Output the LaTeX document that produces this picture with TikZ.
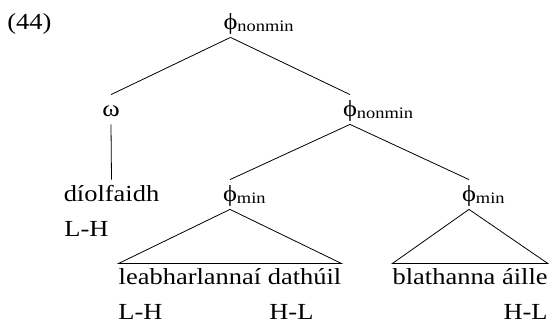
\documentclass[tikz,border=0pt]{standalone}
\usepackage{fontspec}
\setmainfont[FakeStretch=1.15]{Liberation Serif}
\newcommand{\lowsub}[1]{\raisebox{-2pt}{\fontsize{16}{17}\selectfont #1}}
\begin{document}
\begin{tikzpicture}[x=1pt, y=1pt, line width=0.8pt,
    font=\fontsize{23}{27}\selectfont,
    cat/.style={anchor=base, inner sep=0pt, text height=22pt, text depth=7pt},
    leaf/.style={anchor=base, inner sep=0pt, text height=21pt, text depth=0pt},
    tone/.style={inner sep=0pt}]
    \useasboundingbox (0,0) rectangle (549,326);
    \node (ex) at (7,296) [tone, anchor=base west] {(44)};

    \node (top) at (230.5,296) [cat] {ϕ\rlap{\lowsub{nonmin}}};
    \node (w) at (111,209) [cat] {ω};
    \node (nm) at (350,209) [cat] {ϕ\rlap{\lowsub{nonmin}}};
    \node (dio) at (111.5,124) [cat] {díolfaidh};
    \node (m1) at (230,124) [cat] {ϕ\rlap{\lowsub{min}}};
    \node (m2) at (469,124) [cat] {ϕ\rlap{\lowsub{min}}};
    \node (l1) at (230,41) [leaf] {leabharlannaí dathúil};
    \node (l2) at (548,41) [leaf, anchor=base east] {blathanna áille};

    \node (t1) at (64,89) [tone, anchor=base west] {L-H};
    \node (t2) at (118,6) [tone, anchor=base west] {L-H};
    \node (t3) at (269,6) [tone, anchor=base west] {H-L};
    \node (t4) at (548,6) [tone, anchor=base east] {H-L};

    \draw (top.south) -- (w.north);
    \draw (top.south) -- (nm.north);
    \draw (w.south) -- (dio.north);
    \draw (nm.south) -- (m1.north);
    \draw (nm.south) -- (m2.north);
    \draw (m1.south) -- (l1.north west) -- (l1.north east) -- cycle;
    \draw (m2.south) -- (l2.north west) -- (l2.north east) -- cycle;
\end{tikzpicture}
\end{document}
